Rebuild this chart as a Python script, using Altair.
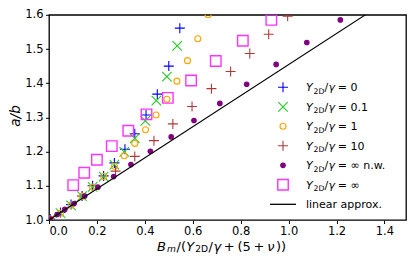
import altair as alt
import pandas as pd

# ---------------- data ----------------
x_y0 = [0.005, 0.048, 0.092, 0.138, 0.182, 0.228, 0.273, 0.317, 0.358, 0.405, 0.452, 0.500, 0.546]
y_y0 = [1.003, 1.022, 1.045, 1.070, 1.100, 1.129, 1.167, 1.207, 1.252, 1.307, 1.368, 1.450, 1.561]

x_y01 = [0.007, 0.048, 0.092, 0.138, 0.182, 0.228, 0.273, 0.314, 0.358, 0.402, 0.448, 0.492, 0.535]
y_y01 = [1.003, 1.020, 1.043, 1.070, 1.097, 1.127, 1.162, 1.199, 1.239, 1.290, 1.349, 1.419, 1.509]

x_y1 = [0.007, 0.048, 0.092, 0.138, 0.182, 0.228, 0.273, 0.314, 0.358, 0.403, 0.447, 0.492, 0.534, 0.578, 0.621, 0.664]
y_y1 = [1.003, 1.020, 1.043, 1.069, 1.096, 1.127, 1.157, 1.188, 1.224, 1.264, 1.307, 1.353, 1.406, 1.466, 1.530, 1.600]

x_y10 = [0.278, 0.358, 0.438, 0.517, 0.597, 0.678, 0.758, 0.838, 0.917, 0.996]
y_y10 = [1.143, 1.186, 1.232, 1.281, 1.332, 1.384, 1.434, 1.487, 1.543, 1.596]

x_nw = [0.007, 0.034, 0.066, 0.105, 0.149, 0.204, 0.270, 0.342, 0.423, 0.510, 0.605, 0.713, 0.825, 0.948, 1.076, 1.216]
y_nw = [1.003, 1.016, 1.031, 1.048, 1.070, 1.096, 1.127, 1.162, 1.201, 1.243, 1.291, 1.341, 1.397, 1.455, 1.519, 1.585]

x_inf = [0.101, 0.147, 0.200, 0.262, 0.331, 0.407, 0.496, 0.593, 0.696, 0.809, 0.928]
y_inf = [1.102, 1.138, 1.176, 1.216, 1.261, 1.309, 1.357, 1.408, 1.465, 1.524, 1.585]

x_lin = [0.0, 1.49]
y_lin = [1.0, 1.677]

legend_values = ["= 0", "= 0.1", "= 1", "= 10", "= \u221e n.w.", "= \u221e"]
x_ticks = [0.0, 0.2, 0.4, 0.6, 0.8, 1.0, 1.2, 1.4]
y_ticks = [1.0, 1.1, 1.2, 1.3, 1.4, 1.5, 1.6]

# ---------------- styles ----------------
FONT = "DejaVu Sans"
PLUS = "M-1,0L1,0M0,-1L0,1"
XMARK = "M-1,-1L1,1M-1,1L1,-1"

series = [
    dict(x=x_y0, y=y_y0, shape=PLUS, color="blue", size=100, filled=False, sw=1.1),
    dict(x=x_y01, y=y_y01, shape=XMARK, color="#22cc22", size=90, filled=False, sw=1.1),
    dict(x=x_y1, y=y_y1, shape="circle", color="orange", size=36, filled=False, sw=1.1),
    dict(x=x_y10, y=y_y10, shape=PLUS, color="#b03a3a", size=100, filled=False, sw=1.1),
    dict(x=x_nw, y=y_nw, shape="circle", color="purple", size=32, filled=True, sw=0),
    dict(x=x_inf, y=y_inf, shape="square", color="#ff33ff", size=110, filled=False, sw=1.4),
]

W, H = 357, 205.2
PAD_L, PAD_T = 41, 6.8
PAD_R = 399 - PAD_L - W
PAD_B = 246 - PAD_T - H

xs = alt.Scale(domain=[0, 1.49], nice=False, zero=False)
ys = alt.Scale(domain=[1.0, 1.6], nice=False, zero=False)
xax = alt.Axis(values=x_ticks, format=".1f", title=None, grid=False, domain=False, labelPadding=1.5)
yax = alt.Axis(values=y_ticks, format=".1f", title=None, grid=False, domain=False, labelPadding=2.5)

layers = []
for s in series:
    df = pd.DataFrame({"x": s["x"], "y": s["y"]})
    kw = dict(shape=s["shape"], size=s["size"], filled=s["filled"], color=s["color"],
              clip=True, opacity=1)
    if not s["filled"]:
        kw["strokeWidth"] = s["sw"]
    layers.append(
        alt.Chart(df).mark_point(**kw).encode(
            x=alt.X("x:Q", scale=xs, axis=xax), y=alt.Y("y:Q", scale=ys, axis=yax)
        )
    )

lin_df = pd.DataFrame({"x": x_lin, "y": y_lin})
layers.append(
    alt.Chart(lin_df).mark_line(color="black", strokeWidth=1.1, clip=True).encode(
        x=alt.X("x:Q", scale=xs, axis=xax), y=alt.Y("y:Q", scale=ys, axis=yax)
    )
)

one = alt.Data(values=[{}])


def txt(text, x, y, size, italic=False, angle=0, align="left", baseline="alphabetic"):
    kw = dict(text=text, font=FONT, fontSize=size, align=align, baseline=baseline,
              color="black")
    if italic:
        kw["fontStyle"] = "italic"
    if angle:
        kw["angle"] = angle
    return alt.Chart(one).mark_text(**kw).encode(x=alt.value(x), y=alt.value(y))


# ---------------- legend ----------------
LX_M = 234     # marker centre
LX_T = 257     # text start
row_y = [72.5, 92.0, 111.5, 131.0, 150.5, 170.0, 189.5]
LS = 11
for i, s in enumerate(series):
    kw = dict(shape=s["shape"], size=s["size"], filled=s["filled"], color=s["color"], opacity=1)
    if not s["filled"]:
        kw["strokeWidth"] = s["sw"]
    layers.append(alt.Chart(one).mark_point(**kw).encode(x=alt.value(LX_M), y=alt.value(row_y[i])))
    by = row_y[i] + 4
    layers.append(txt("Y", LX_T, by, LS, italic=True))
    layers.append(txt("2D", LX_T + 7.6, by + 2.2, LS * 0.7))
    layers.append(txt("/", LX_T + 18.6, by, LS))
    layers.append(txt("\u03b3", LX_T + 22.4, by, LS, italic=True))
    layers.append(txt(legend_values[i], LX_T + 31.8, by, LS))

layers.append(
    alt.Chart(one).mark_rule(color="black", strokeWidth=1.3).encode(
        x=alt.value(LX_M - 13), x2=alt.value(LX_M + 13), y=alt.value(row_y[6])
    )
)
layers.append(txt("linear approx.", LX_T, row_y[6] + 4, LS))

# ---------------- axis titles ----------------
TS = 13
SUB = TS * 0.7
tx0 = 108
ty = 235.8
title_parts = [
    ("B", 0, 0, TS, True),
    ("m", 9.9, 1.0, SUB, True),
    ("/(", 19.5, 0, TS, False),
    ("Y", 29.2, 0, TS, True),
    ("2D", 38.2, 1.0, SUB, False),
    ("/", 51.5, 0, TS, False),
    ("\u03b3", 56.4, 0, TS, True),
    ("+", 66.8, 0, TS, False),
    ("(5", 80.4, 0, TS, False),
    ("+", 96.5, 0, TS, False),
    ("\u03bd", 110.2, 0, TS, True),
    ("))", 119.0, 0, TS, False),
]
for t, dx, dy, sz, it in title_parts:
    layers.append(txt(t, tx0 + dx, ty + dy, sz, italic=it))

layers.append(txt("a/b", -32.8, 101.2, 13.5, italic=True, angle=270, align="center", baseline="middle"))

chart = (
    alt.layer(*layers)
    .properties(
        width=W,
        height=H,
        padding={"left": PAD_L, "top": PAD_T, "right": PAD_R, "bottom": PAD_B},
        autosize=alt.AutoSizeParams(type="none"),
    )
    .configure_view(stroke="black", strokeWidth=1.3)
    .configure_axis(
        labelFont=FONT,
        labelFontSize=11.5,
        labelColor="black",
        tickColor="black",
        tickSize=3.5,
        tickWidth=1,
    )
)

chart.save("out.html", embed_options={"renderer": "svg", "actions": False})
